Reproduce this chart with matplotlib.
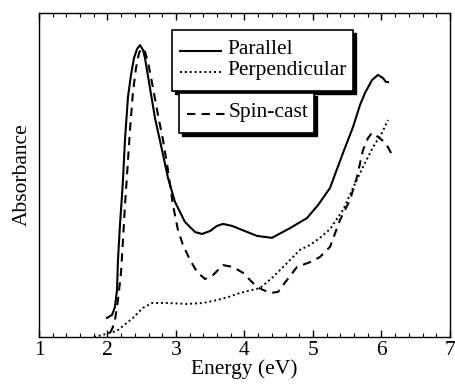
import matplotlib
matplotlib.use("Agg")
import matplotlib.pyplot as plt
from matplotlib.patches import Rectangle
from matplotlib.lines import Line2D
from matplotlib.ticker import MultipleLocator

plt.rcParams['font.family'] = ['Liberation Serif', 'DejaVu Serif']

# ---- data ----
par_x = [1.993, 2.066, 2.109, 2.139, 2.153, 2.182, 2.212, 2.226, 2.255, 2.299, 2.343, 2.387,
         2.431, 2.474, 2.518, 2.547, 2.620, 2.693, 2.796, 2.883, 2.985, 3.131, 3.277, 3.380,
         3.496, 3.599, 3.686, 3.818, 3.934, 4.182, 4.401, 4.664, 4.912, 5.073, 5.248, 5.438,
         5.584, 5.686, 5.759, 5.861, 5.949, 6.022, 6.066, 6.095]
par_y = [0.059, 0.068, 0.093, 0.145, 0.238, 0.346, 0.438, 0.485, 0.608, 0.741, 0.809, 0.861,
         0.889, 0.901, 0.886, 0.861, 0.769, 0.676, 0.577, 0.491, 0.417, 0.355, 0.324, 0.318,
         0.327, 0.343, 0.349, 0.343, 0.333, 0.312, 0.306, 0.336, 0.367, 0.407, 0.460, 0.568,
         0.648, 0.716, 0.753, 0.793, 0.809, 0.799, 0.787, 0.787]

perp_x = [1.803, 1.920, 2.139, 2.372, 2.518, 2.650, 2.869, 3.161, 3.394, 3.599, 3.759, 3.934,
          4.226, 4.416, 4.620, 4.810, 4.956, 5.102, 5.248, 5.438, 5.584, 5.730, 5.876, 6.007,
          6.095]
perp_y = [0.000, 0.006, 0.019, 0.059, 0.090, 0.105, 0.105, 0.102, 0.105, 0.114, 0.123, 0.136,
          0.151, 0.185, 0.228, 0.269, 0.284, 0.306, 0.333, 0.392, 0.460, 0.525, 0.586, 0.630,
          0.670]

spin_x = [2.036, 2.080, 2.109, 2.153, 2.197, 2.226, 2.255, 2.285, 2.328, 2.372, 2.416, 2.460,
          2.504, 2.547, 2.591, 2.664, 2.737, 2.810, 2.883, 2.956, 3.029, 3.102, 3.204, 3.307,
          3.423, 3.540, 3.686, 3.832, 3.978, 4.182, 4.372, 4.489, 4.620, 4.766, 4.956, 5.102,
          5.248, 5.394, 5.540, 5.642, 5.730, 5.803, 5.861, 5.934, 6.007, 6.095, 6.168]
spin_y = [0.012, 0.031, 0.052, 0.114, 0.198, 0.299, 0.407, 0.500, 0.639, 0.756, 0.830, 0.877,
          0.892, 0.880, 0.849, 0.769, 0.685, 0.608, 0.515, 0.407, 0.330, 0.284, 0.238, 0.201,
          0.179, 0.191, 0.222, 0.216, 0.198, 0.154, 0.136, 0.139, 0.176, 0.216, 0.231, 0.247,
          0.278, 0.361, 0.423, 0.494, 0.577, 0.614, 0.630, 0.620, 0.608, 0.586, 0.556]

labels = ["Parallel", "Perpendicular", "Spin-cast"]
x_ticks = [1, 2, 3, 4, 5, 6, 7]

W, H = 456, 384
fig = plt.figure(figsize=(W / 100, H / 100), dpi=100)
L, R, T, B = 39, 450, 13, 337
ax = fig.add_axes([L / W, 1 - B / H, (R - L) / W, (B - T) / H])

solid = dict(color='black', lw=1.5, linestyle='-', solid_joinstyle='round')
dotted = dict(color='black', lw=1.4, linestyle=(0, (1, 1.5)))
dashed = dict(color='black', lw=1.5, linestyle=(0, (4, 3)))

ax.plot(par_x, par_y, **solid)
ax.plot(perp_x, perp_y, **dotted)
ax.plot(spin_x, spin_y, **dashed)

ax.set_xlim(1, 7)
ax.set_ylim(0, 1)
ax.set_xticks(x_ticks)
ax.set_xticklabels([str(t) for t in x_ticks])
ax.xaxis.set_minor_locator(MultipleLocator(0.2))
ax.tick_params(axis='x', which='both', direction='in', top=True, bottom=True, labelsize=15.5, pad=3)
ax.tick_params(axis='x', which='major', length=5, width=1)
ax.tick_params(axis='x', which='minor', length=3, width=0.8)
ax.set_yticks([])
for s in ax.spines.values():
    s.set_linewidth(1.0)

ax.set_xlabel("Energy (eV)", fontsize=15.5, labelpad=-1)
ax.set_ylabel("Absorbance", fontsize=15.5, labelpad=5)


def fx(px):
    return px / W


def fy(py):
    return 1 - py / H


def box(x0, y0, x1, y1, sh=3):
    fig.patches.append(Rectangle((fx(x0 + sh), fy(y1 + sh)), fx(x1 - x0), (y1 - y0) / H,
                                 transform=fig.transFigure, facecolor='black', edgecolor='black', zorder=5))
    fig.patches.append(Rectangle((fx(x0), fy(y1)), fx(x1 - x0), (y1 - y0) / H,
                                 transform=fig.transFigure, facecolor='white', edgecolor='black',
                                 lw=1.2, zorder=6))


box(172, 30, 353, 91)
box(179, 93, 314, 133)

fig.lines.append(Line2D([fx(180), fx(221)], [fy(51), fy(51)], transform=fig.transFigure, zorder=7, **solid))
fig.lines.append(Line2D([fx(180), fx(221)], [fy(72), fy(72)], transform=fig.transFigure, zorder=7, **dotted))
fig.lines.append(Line2D([fx(187), fx(228)], [fy(114), fy(114)], transform=fig.transFigure, zorder=7, **dashed))

fig.text(fx(227), fy(50), labels[0], fontsize=15.5, va='center', ha='left', zorder=8)
fig.text(fx(227), fy(71), labels[1], fontsize=15.5, va='center', ha='left', zorder=8)
fig.text(fx(229), fy(112), labels[2], fontsize=15.5, va='center', ha='left', zorder=8)

fig.savefig("out.png", dpi=100)
